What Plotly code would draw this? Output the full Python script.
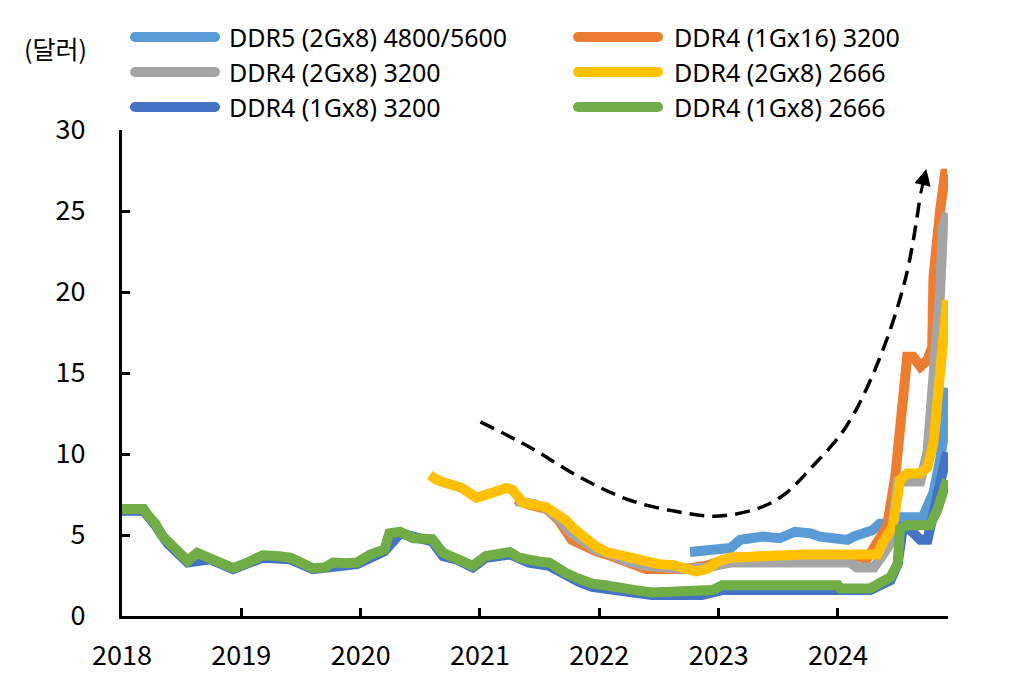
import plotly.graph_objects as go

# ---------------- data ----------------
year_ticks = [2018, 2019, 2020, 2021, 2022, 2023, 2024]
year_labels = ["2018", "2019", "2020", "2021", "2022", "2023", "2024"]
y_ticks = [0, 5, 10, 15, 20, 25, 30]

series_names = ["DDR5 (2Gx8) 4800/5600", "DDR4 (1Gx16) 3200", "DDR4 (2Gx8) 3200",
                "DDR4 (2Gx8) 2666", "DDR4 (1Gx8) 3200", "DDR4 (1Gx8) 2666"]
series_colors = ["#5B9BD5", "#ED7D31", "#A5A5A5", "#FFC000", "#4472C4", "#70AD47"]

ddr5_x = [2022.76, 2023.04, 2023.10, 2023.18, 2023.37, 2023.51, 2023.64, 2023.77, 2023.85,
          2024.08, 2024.13, 2024.29, 2024.35, 2024.44, 2024.52, 2024.71, 2024.80, 2024.855,
          2024.897, 2024.914]
ddr5_y = [3.95, 4.2, 4.2, 4.7, 4.9, 4.8, 5.2, 5.1, 4.9,
          4.7, 4.9, 5.3, 5.7, 5.7, 6.1, 6.1, 7.6, 9.6,
          11.7, 14.1]

d4_1g16_3200_x = [2021.30, 2021.40, 2021.56, 2021.66, 2021.77, 2021.88, 2021.97, 2022.10, 2022.23,
                  2022.39, 2022.55, 2022.72, 2022.90, 2023.00, 2023.10, 2023.50, 2024.00, 2024.15,
                  2024.24, 2024.41, 2024.48, 2024.52, 2024.545, 2024.58, 2024.63, 2024.69, 2024.75,
                  2024.79, 2024.80, 2024.83, 2024.855, 2024.897, 2024.914]
d4_1g16_3200_y = [7.2, 6.9, 6.6, 5.9, 4.7, 4.3, 4.0, 3.7, 3.3,
                  2.9, 2.9, 2.9, 3.1, 3.4, 3.6, 3.7, 3.7, 3.7,
                  3.5, 5.5, 8.6, 11.7, 12.9, 16.0, 16.0, 15.4, 15.8,
                  16.6, 20.9, 24.0, 25.0, 27.3, 27.3]

d4_2g8_3200_x = [2021.30, 2021.46, 2021.56, 2021.66, 2021.77, 2021.88, 2021.97, 2022.10, 2022.23,
                 2022.39, 2022.55, 2022.72, 2022.90, 2023.00, 2023.10, 2023.50, 2024.10, 2024.16,
                 2024.30, 2024.36, 2024.44, 2024.50, 2024.69, 2024.75, 2024.80, 2024.855, 2024.88,
                 2024.914]
d4_2g8_3200_y = [7.1, 6.9, 6.6, 6.0, 5.1, 4.5, 4.1, 3.8, 3.4,
                 3.1, 3.0, 2.9, 3.0, 3.2, 3.3, 3.3, 3.3, 3.0,
                 3.0, 3.6, 4.5, 8.3, 8.3, 10.1, 14.1, 19.9, 24.0,
                 24.9]

d4_2g8_2666_x = [2020.58, 2020.64, 2020.72, 2020.85, 2020.97, 2021.04, 2021.10, 2021.22, 2021.27,
                 2021.36, 2021.46, 2021.56, 2021.64, 2021.72, 2021.80, 2021.89, 2021.97, 2022.06,
                 2022.15, 2022.23, 2022.39, 2022.50, 2022.61, 2022.72, 2022.81, 2022.90, 2022.98,
                 2023.09, 2023.30, 2023.51, 2023.60, 2023.70, 2024.00, 2024.20, 2024.33, 2024.38,
                 2024.46, 2024.52, 2024.58, 2024.69, 2024.75, 2024.80, 2024.84, 2024.88, 2024.914]
d4_2g8_2666_y = [8.7, 8.4, 8.2, 7.9, 7.3, 7.4, 7.6, 7.9, 7.8,
                 7.0, 6.8, 6.7, 6.3, 5.9, 5.3, 4.7, 4.3, 3.95,
                 3.8, 3.6, 3.3, 3.2, 3.15, 3.0, 2.75, 2.9, 3.3,
                 3.6, 3.7, 3.75, 3.9, 3.8, 3.8, 3.8, 3.8, 4.6,
                 5.5, 8.4, 8.8, 8.8, 9.2, 10.7, 13.7, 16.8, 19.5]

d4_1g8_3200_x = [2018.00, 2018.18, 2018.28, 2018.38, 2018.55, 2018.74, 2018.93, 2019.18, 2019.41,
                 2019.60, 2019.97, 2020.20, 2020.33, 2020.60, 2020.69, 2020.80, 2020.94, 2021.05,
                 2021.25, 2021.41, 2021.58, 2021.65, 2021.72, 2021.83, 2021.94, 2022.05, 2022.17,
                 2022.30, 2022.44, 2022.86, 2022.95, 2023.03, 2024.27, 2024.44, 2024.50, 2024.545,
                 2024.58, 2024.69, 2024.75, 2024.80, 2024.855, 2024.914]
d4_1g8_3200_y = [6.5, 6.5, 5.6, 4.5, 3.3, 3.5, 2.9, 3.6, 3.5,
                 2.9, 3.2, 4.0, 5.1, 4.6, 3.7, 3.5, 3.0, 3.6,
                 3.8, 3.3, 3.1, 2.8, 2.5, 2.1, 1.8, 1.7, 1.5,
                 1.35, 1.3, 1.3, 1.4, 1.6, 1.6, 2.2, 3.2, 5.5,
                 5.5, 4.7, 4.7, 6.4, 8.4, 10.1]

d4_1g8_2666_x = [2018.00, 2018.10, 2018.18, 2018.23, 2018.28, 2018.33, 2018.38, 2018.47, 2018.55,
                 2018.63, 2018.74, 2018.85, 2018.93, 2019.05, 2019.18, 2019.30, 2019.41, 2019.50,
                 2019.60, 2019.70, 2019.77, 2019.88, 2019.97, 2020.08, 2020.20, 2020.24, 2020.33,
                 2020.44, 2020.60, 2020.69, 2020.80, 2020.94, 2021.05, 2021.15, 2021.25, 2021.33,
                 2021.41, 2021.50, 2021.58, 2021.65, 2021.72, 2021.83, 2021.94, 2022.05, 2022.17,
                 2022.30, 2022.44, 2022.60, 2022.86, 2022.95, 2023.03, 2023.30, 2023.51, 2023.80,
                 2024.00, 2024.02, 2024.27, 2024.35, 2024.44, 2024.50, 2024.52, 2024.58, 2024.77,
                 2024.83, 2024.88, 2024.914]
d4_1g8_2666_y = [6.6, 6.6, 6.6, 6.1, 5.7, 5.0, 4.6, 4.0, 3.4,
                 3.9, 3.6, 3.2, 2.95, 3.3, 3.75, 3.7, 3.6, 3.3,
                 2.95, 3.0, 3.3, 3.25, 3.3, 3.8, 4.1, 5.1, 5.2,
                 4.8, 4.75, 3.9, 3.6, 3.1, 3.7, 3.8, 3.95, 3.6,
                 3.45, 3.35, 3.3, 2.9, 2.65, 2.3, 2.0, 1.9, 1.7,
                 1.6, 1.45, 1.45, 1.45, 1.6, 1.9, 1.95, 1.95, 1.9,
                 1.9, 1.7, 1.7, 2.0, 2.4, 3.2, 5.4, 5.6, 5.6,
                 6.5, 7.8, 8.4]

series_x = [ddr5_x, d4_1g16_3200_x, d4_2g8_3200_x, d4_2g8_2666_x, d4_1g8_3200_x, d4_1g8_2666_x]
series_y = [ddr5_y, d4_1g16_3200_y, d4_2g8_3200_y, d4_2g8_2666_y, d4_1g8_3200_y, d4_1g8_2666_y]

# dashed trend guide (decoration)
trend_x = [2021.004, 2021.414, 2021.833, 2022.251, 2022.669, 2023.004, 2023.364, 2023.565,
           2023.782, 2024.067, 2024.343, 2024.569, 2024.690]
trend_y = [11.98, 10.43, 8.58, 7.16, 6.42, 6.17, 6.73, 7.59,
           9.20, 11.67, 15.80, 20.93, 26.0]

unit_label = "(달러)"

# ---------------- figure ----------------
FONT = "Noto Sans CJK KR"
LEGEND_FONT = "Noto Sans"
W, H = 1020, 693
ML, MR, MT, MB = 122, 72, 130, 77
PW, PH = W - ML - MR, H - MT - MB


def px_x(px):
    return (px - ML) / PW


def px_y(py):
    return (H - MB - py) / PH


fig = go.Figure()
for name, color, xs, ys in zip(series_names, series_colors, series_x, series_y):
    fig.add_trace(go.Scatter(x=xs, y=ys, mode="lines", name=name,
                             line=dict(color=color, width=10), showlegend=False,
                             hoverinfo="skip"))

fig.add_trace(go.Scatter(x=trend_x, y=trend_y, mode="lines", showlegend=False,
                         line=dict(color="black", width=3.5, dash="15px,8px", shape="spline"),
                         hoverinfo="skip"))

annotations = [
    dict(x=2024.74, y=27.6, xref="x", yref="y", ax=trend_x[-1], ay=trend_y[-1],
         axref="x", ayref="y", showarrow=True, arrowhead=2, arrowsize=1.1,
         arrowwidth=3, arrowcolor="black", text=""),
    dict(x=px_x(89), y=px_y(48), xref="paper", yref="paper", xanchor="right",
         yanchor="middle", text=unit_label, showarrow=False,
         font=dict(family=FONT, size=25, color="black")),
]

shapes = []
legend_cols = [(130, 220, 227), (573, 663, 672)]
legend_rows = [37, 72, 107]
for i, (name, color) in enumerate(zip(series_names, series_colors)):
    cx0, cx1, tx = legend_cols[i % 2]
    ry = legend_rows[i // 2]
    shapes.append(dict(type="line", xref="paper", yref="paper",
                       x0=px_x(cx0 + 5), x1=px_x(cx1 - 5), y0=px_y(ry), y1=px_y(ry),
                       line=dict(color=color, width=10)))
    for cx in (cx0 + 5, cx1 - 5):
        shapes.append(dict(type="circle", xref="paper", yref="paper",
                           xsizemode="pixel", ysizemode="pixel",
                           xanchor=px_x(cx), yanchor=px_y(ry),
                           x0=-5, x1=5, y0=-5, y1=5,
                           fillcolor=color, line=dict(width=0)))
    annotations.append(dict(x=px_x(tx), y=px_y(ry), xref="paper", yref="paper",
                            xanchor="left", yanchor="middle", text=name, showarrow=False,
                            font=dict(family=LEGEND_FONT, size=25, color="black")))

fig.update_layout(
    width=W, height=H,
    margin=dict(l=ML, r=MR, t=MT, b=MB),
    paper_bgcolor="white", plot_bgcolor="white",
    font=dict(family=FONT, size=27, color="black"),
    shapes=shapes, annotations=annotations,
    xaxis=dict(range=[2018, 2024.922], tickmode="array", tickvals=year_ticks,
               ticktext=year_labels, showgrid=False, zeroline=False,
               showline=True, linecolor="black", linewidth=3,
               ticks="inside", ticklen=8, tickwidth=3, tickcolor="black",
               ticklabelstandoff=14),
    yaxis=dict(range=[0, 30], tickmode="array", tickvals=y_ticks, showgrid=False,
               zeroline=False, showline=True, linecolor="black", linewidth=3,
               ticks="inside", ticklen=8, tickwidth=3, tickcolor="black",
               ticklabelstandoff=28),
)

fig.write_html("out.html", config={"displayModeBar": False})

# remove the browser's default page margin so the figure sits at the window origin
with open("out.html", "r", encoding="utf-8") as f:
    html = f.read()
html = html.replace("<body>", '<body style="margin:0;padding:0;">', 1)
with open("out.html", "w", encoding="utf-8") as f:
    f.write(html)
